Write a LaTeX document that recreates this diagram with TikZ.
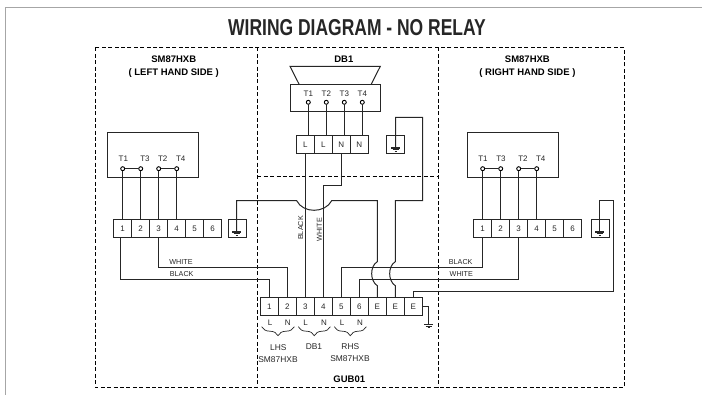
\documentclass[tikz,border=0pt]{standalone}
\usepackage{fontspec}
\setmainfont{Liberation Sans}
\usetikzlibrary{decorations.pathreplacing}
\definecolor{inkgrey}{HTML}{262626}
\tikzset{
  wire/.style={draw=inkgrey,line width=1pt},
  zone/.style={draw=black,line width=0.9pt,dash pattern=on 4pt off 2.4pt},
  cell/.style={draw=inkgrey,line width=1pt,minimum width=18pt,minimum height=18pt,inner sep=0pt,font=\fontsize{8}{9}\selectfont,text=inkgrey},
  unit/.style={draw=inkgrey,line width=1pt,inner sep=0pt},
  term/.style={circle,draw=black,fill=white,line width=0.9pt,minimum size=4pt,inner sep=0pt},
  lbl/.style={font=\fontsize{8}{9}\selectfont,text=inkgrey,inner sep=0pt},
  tiny/.style={font=\fontsize{7.2}{8}\selectfont,text=inkgrey,inner sep=0pt},
  sub/.style={font=\fontsize{8.4}{9}\selectfont,text=inkgrey,inner sep=0pt},
  head/.style={font=\fontsize{9.5}{10}\selectfont\bfseries,text=black,inner sep=0pt},
  curly/.style={draw=inkgrey,line width=0.7pt,decorate,decoration={brace,mirror,amplitude=9pt,aspect=0.5}},
  earth/.pic={
    \draw[line width=1.2pt,draw=inkgrey] (-4.5,0) -- (4.5,0);
    \draw[line width=0.8pt,draw=inkgrey] (-3,1.7) -- (3,1.7);
    \draw[line width=0.7pt,draw=inkgrey] (-1.2,3.1) -- (1.2,3.1);
  }
}
\begin{document}
\begin{tikzpicture}[x=1pt,y=-1pt]
\useasboundingbox (0,0) rectangle (702,395);
\draw[draw=black!35,line width=1.2pt] (5.5,395) -- (5.5,7.5) -- (702,7.5);

\node[font=\fontsize{23}{24}\selectfont\bfseries,text=inkgrey,inner sep=0pt,xscale=0.76] (title) at (357,28) {WIRING DIAGRAM - NO RELAY};

% dashed zones
\draw[zone] (95,47.5) rectangle (624.6,387.3);
\draw[zone] (257.3,47.5) -- (257.3,387.3);
\draw[zone] (438.7,47.5) -- (438.7,387.3);
\draw[zone] (257.3,176.3) -- (438.7,176.3);

\node[head] (lhead) at (173.7,59) {SM87HXB};
\node[head] (lside) at (173.7,72.7) {( LEFT HAND SIDE )};
\node[head] (dhead) at (343.8,59) {DB1};
\node[head] (rhead) at (527.4,59) {SM87HXB};
\node[head] (rside) at (527.4,72.7) {( RIGHT HAND SIDE )};
\node[head] (ghead) at (349.3,379.3) {GUB01};

% left hand unit
\node[unit,minimum width=90.3pt,minimum height=45.3pt] (lbox) at (152.85,155.35) {};
\foreach \n/\x/\lx/\t in {1/122.7/123.3/T1,2/140.7/145/T3,3/158.7/162.7/T2,4/176.7/180.7/T4}{
  \node[term] (lt\n) at (\x,168.7) {};
  \node[lbl] (ltl\n) at (\lx,158.7) {\t};
}
\foreach \n in {1,...,6}
  \node[cell] (lc\n) at (104.7+\n*18,228.3) {\n};
\node[cell] (lgbox) at (237,228.3) {};
\foreach \n in {1,...,4}
  \draw[wire] (lt\n.south) -- (lt\n.south |- lc\n.north);
\draw[wire] (lt1) -- (lt2);
\draw[wire] (lt3) -- (lt4);
\pic at (236.7,232) {earth};
\coordinate (lg) at (236.7,232);

% right hand unit
\node[unit,minimum width=90.6pt,minimum height=45.3pt] (rbox) at (513,155.35) {};
\foreach \n/\x/\lx/\t in {1/482.7/483/T1,2/500.7/501/T3,3/518.7/523/T2,4/536.7/540.7/T4}{
  \node[term] (rt\n) at (\x,168.7) {};
  \node[lbl] (rtl\n) at (\lx,158.7) {\t};
}
\foreach \n in {1,...,6}
  \node[cell] (rc\n) at (464.7+\n*18,228.3) {\n};
\node[cell] (rgbox) at (600,228.3) {};
\foreach \n in {1,...,4}
  \draw[wire] (rt\n.south) -- (rt\n.south |- rc\n.north);
\draw[wire] (rt1) -- (rt2);
\draw[wire] (rt3) -- (rt4);
\pic at (599.7,232) {earth};
\coordinate (rg) at (599.7,232);

% DB1 unit
\draw[wire] (299.3,84.7) -- (290,66.3) -- (380.3,66.3) -- (371,84.7);
\node[unit,minimum width=90pt,minimum height=26.6pt] (dbox) at (335.3,98) {};
\foreach \n/\t in {1/T1,2/T2,3/T3,4/T4}{
  \node[term] (dt\n) at (290.3+\n*18,102.3) {};
  \node[lbl] (dtl\n) at (290.3+\n*18,93.7) {\t};
}
\foreach \n/\t in {1/L,2/L,3/N,4/N}
  \node[cell] (dc\n) at (287.3+\n*18,144.5) {\t};
\node[cell] (dgbox) at (395.5,144.5) {};
\foreach \n in {1,...,4}
  \draw[wire] (dt\n.south) -- (dt\n.south |- dc\n.north);
\pic at (395.7,148) {earth};
\coordinate (dg) at (395.7,148);

% GUB01 strip
\foreach \n/\t in {1/1,2/2,3/3,4/4,5/5,6/6,7/E,8/E,9/E}
  \node[cell] (gc\n) at (251.3+\n*18,306.3) {\t};

% wiring
\draw[wire] ([xshift=-2.7pt]lc1.south) |- (269.3,279.3) -- (gc1.north);
\draw[wire] (lc3.south) |- (287.3,267.3) -- (gc2.north);
\draw[wire] (dc1.south) -- (gc3.north);
\draw[wire] (dc3.south) -- (341.3,185.7) -| (gc4.north);
\draw[wire] (rc1.south) |- (341.3,267.3) -- (gc5.north);
\draw[wire] (rc3.south) |- (359.3,279.3) -- (gc6.north);
\draw[wire] (lg) |- (296.7,200.7) .. controls (303,213.5) and (325,213.5) .. (331.7,200.7) -| (377.3,261.7)
  .. controls (369.8,266) and (369.8,281) .. (377.3,285.7) -- (gc7.north);
\draw[wire] (dg) |- (422.7,117.3) |- (395.3,200.7) -- (395.3,261.7)
  .. controls (387.8,266) and (387.8,281) .. (395.3,285.7) -- (gc8.north);
\draw[wire] (rg) |- (613.7,200.7) |- (413.3,291.3) -- (gc9.north);
\draw[wire] ([yshift=-0.5pt]gc9.east) -| (428.7,324.7);
\pic at (428.7,324.7) {earth};

\node[tiny] (lwhite) at (181,262.3) {WHITE};
\node[tiny] (lblack) at (181.7,274.3) {BLACK};
\node[tiny] (rblack) at (460.7,262.3) {BLACK};
\node[tiny] (rwhite) at (461.3,274.3) {WHITE};
\node[tiny,rotate=90] (mblack) at (300.7,228) {BLACK};
\node[tiny,rotate=90] (mwhite) at (319.3,229.5) {WHITE};

% pole letters and braces
\foreach \n/\x/\t in {1/270/L,2/287.7/N,3/305.7/L,4/324/N,5/342/L,6/360/N}
  \node[lbl] (pl\n) at (\x,322.7) {\t};
\draw[curly] (261.7,326.7) -- (294.3,326.7);
\draw[curly] (298.3,326.7) -- (330.3,326.7);
\draw[curly] (334.3,326.7) -- (366.3,326.7);
\node[sub] (lhs) at (278.3,348) {LHS};
\node[sub] (lhsm) at (278,360) {SM87HXB};
\node[sub] (db) at (314,346.7) {DB1};
\node[sub] (rhs) at (350.3,346.7) {RHS};
\node[sub] (rhsm) at (350,359) {SM87HXB};
\end{tikzpicture}
\end{document}
